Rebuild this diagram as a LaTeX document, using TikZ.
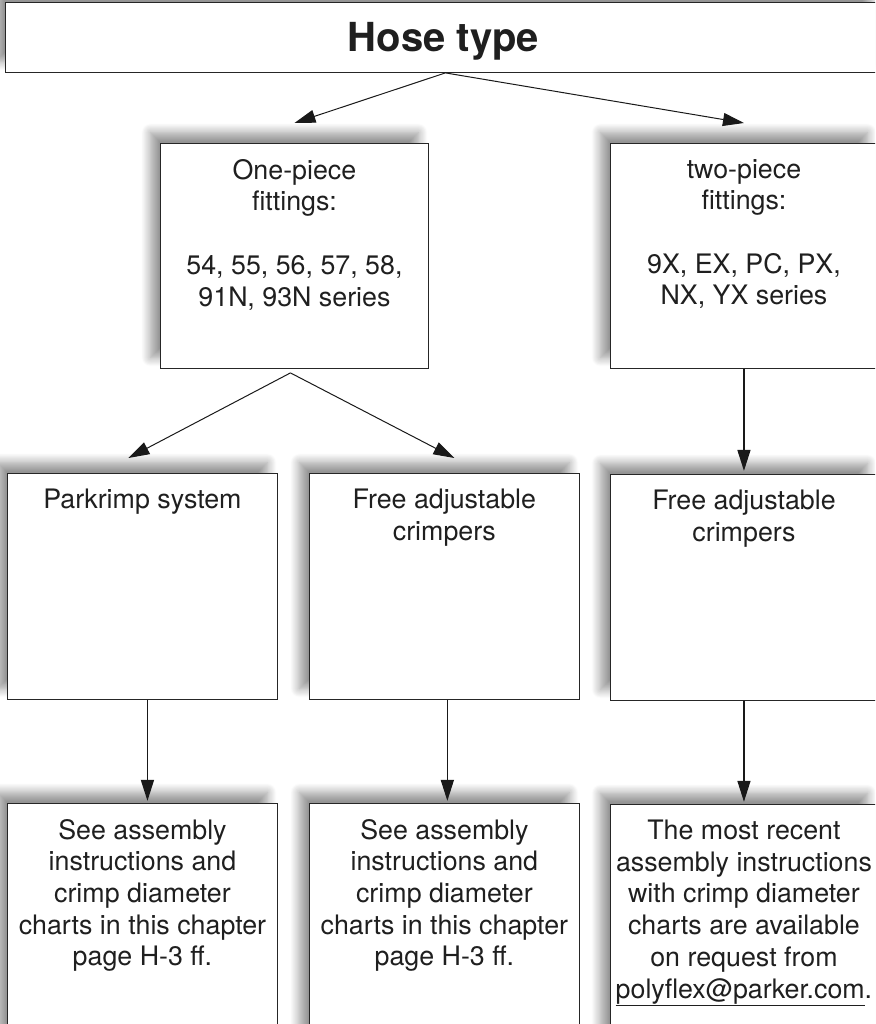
\documentclass[tikz,border=0pt]{standalone}
\usepackage{fontspec}
\setmainfont{TeX Gyre Heros}
\usetikzlibrary{arrows.meta,positioning,shadows.blur}

\begin{document}
\begin{tikzpicture}[
  x=1pt, y=-1pt,
  node distance=31pt,
  box/.style={draw=black!85, line width=0.9pt, fill=white, inner sep=0pt,
              minimum width=270pt, minimum height=226pt,
              blur shadow={shadow xshift=-10pt, shadow yshift=11pt,
                           shadow blur radius=9pt, shadow blur steps=12,
                           shadow opacity=42}},
  intext/.style={anchor=north, yshift=-16pt, inner sep=0pt, align=center,
                 font=\fontsize{26.8}{31.7}\selectfont, text=black!88},
  arr/.style={-{Triangle[length=21pt,width=13pt]}, line width=1pt, black!90},
  varr/.style={arr, line width=1.5pt}
]
\path[use as bounding box] (0,0) rectangle (875,1024);
\clip (0,0) rectangle (875,1024);

% top
\node[box, anchor=north west, minimum width=876pt, minimum height=70pt,
      text height=29pt, text depth=0pt,
      font=\fontsize{40}{46}\selectfont\bfseries, text=black!88] (hose) at (5,2) {Hose type};

% fittings
\node[box, anchor=north west, minimum width=268pt, minimum height=225pt,
      label={[intext]north:One-piece\\fittings:\\[31.7pt]54, 55, 56, 57, 58,\\91N, 93N series}]
      (one) at (160,143) {};
\node[box, anchor=north west, minimum width=267pt, minimum height=225pt,
      label={[intext]north:two-piece\\fittings:\\[31.7pt]9X, EX, PC, PX,\\NX, YX series}]
      (two) at (610,143) {};

% crimpers
\node[box, anchor=north west, label={[intext]north:Parkrimp system}] (park) at (7,473) {};
\node[box, right=of park, label={[intext]north:Free adjustable\\crimpers}] (adjA) {};
\node[box, below=105pt of two, minimum width=267pt,
      label={[intext]north:Free adjustable\\crimpers}] (adjB) {};

% instructions
\node[box, below=103pt of park, minimum height=240pt,
      label={[intext]north:See assembly\\instructions and\\crimp diameter\\charts in this chapter\\page H-3 ff.}] (seeA) {};
\node[box, below=103pt of adjA, minimum height=240pt,
      label={[intext]north:See assembly\\instructions and\\crimp diameter\\charts in this chapter\\page H-3 ff.}] (seeB) {};
\node[box, below=103pt of adjB, minimum width=267pt, minimum height=240pt,
      label={[intext]north:The most recent\\assembly instructions\\with crimp diameter\\charts are available\\on request from\\\underline{polyflex@parker.com}.}] (req) {};

\draw[arr] ([xshift=2pt]hose.south) -- ([yshift=20pt]one.north);
\draw[arr] ([xshift=2pt]hose.south) -- ([yshift=20pt]two.north);
\draw[arr] ([xshift=-4pt,yshift=-4pt]one.south) -- ([xshift=-14pt,yshift=15pt]park.north);
\draw[arr] ([xshift=-4pt,yshift=-4pt]one.south) -- ([xshift=10pt,yshift=15pt]adjA.north);
\draw[varr] (two.south) -- ([yshift=3pt]adjB.north);
\draw[varr] ([xshift=5pt]park.south) -- ([xshift=5pt,yshift=2pt]seeA.north);
\draw[varr] ([xshift=3pt]adjA.south) -- ([xshift=3pt,yshift=2pt]seeB.north);
\draw[varr] (adjB.south) -- ([yshift=2pt]req.north);
\end{tikzpicture}
\end{document}
